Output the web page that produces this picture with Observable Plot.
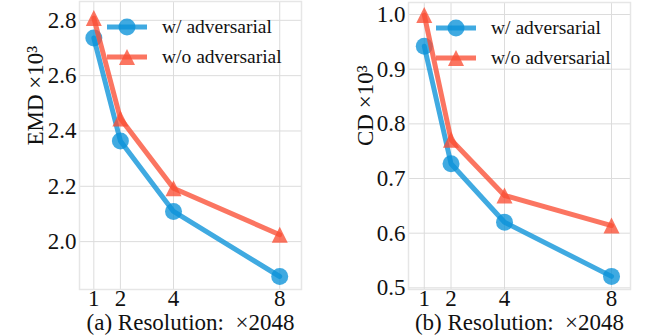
<!DOCTYPE html>
<html>
<head>
<meta charset="utf-8">
<script src="https://cdn.jsdelivr.net/npm/d3@7"></script>
<script src="https://cdn.jsdelivr.net/npm/@observablehq/plot@0.6"></script>
<style>
  html, body { margin: 0; padding: 0; background: #fff; }
  #wrap { display: flex; width: 664px; height: 335px; }
  #wrap > svg { display: block; }
  #wrap text { font-family: "Liberation Serif", "Times New Roman", serif !important; }
</style>
</head>
<body>
<div id="wrap"></div>
<script>
// ---- data ----
const resolutions = [1, 2, 4, 8];
const emdWith = [2.736, 2.364, 2.109, 1.874];
const emdWithout = [2.808, 2.445, 2.193, 2.025];
const cdWith = [0.942, 0.727, 0.620, 0.521];
const cdWithout = [0.999, 0.771, 0.669, 0.614];
const emdTicks = [2.0, 2.2, 2.4, 2.6, 2.8];
const cdTicks = [0.5, 0.6, 0.7, 0.8, 0.9, 1.0];
const seriesNames = ["w/ adversarial", "w/o adversarial"];

const BLUE = "#0a92d8";
const RED = "#fa4e34";
const FONT = "'Liberation Serif', 'Times New Roman', serif";

// matplotlib-like "^" marker centred on its bounding box
const mplTriangle = {
  draw(ctx, size) {
    const r = Math.sqrt(size / Math.PI);
    ctx.moveTo(0, -r);
    ctx.lineTo(r, r);
    ctx.lineTo(-r, r);
    ctx.closePath();
  }
};

function panel({withVals, withoutVals, yTicks, yDomain, xDomain, yLabel, xLabel, marginLeft, marginRight, marginTop, yLabelDx}) {
  const rowsWith = resolutions.map((x, i) => ({x, y: withVals[i]}));
  const rowsWithout = resolutions.map((x, i) => ({x, y: withoutVals[i]}));
  const svg = Plot.plot({
    width: 332,
    height: 335,
    marginLeft, marginRight, marginTop,
    marginBottom: 46,
    style: {fontFamily: FONT, background: "#fff", color: "#111"},
    x: {domain: xDomain},
    y: {domain: yDomain},
    marks: [
      Plot.gridX(resolutions, {stroke: "#dcdcdc", strokeOpacity: 1, strokeWidth: 1}),
      Plot.gridY(yTicks, {stroke: "#dcdcdc", strokeOpacity: 1, strokeWidth: 1}),
      Plot.frame({stroke: "#e6e6e6", strokeWidth: 1.5}),
      Plot.axisX(resolutions, {tickSize: 0, tickPadding: 0, fontSize: 23, label: null, fill: "#111"}),
      Plot.axisY(yTicks, {tickSize: 0, tickPadding: 3, fontSize: 23, label: null, tickFormat: d3.format(".1f"), fill: "#111"}),
      Plot.line(rowsWith, {x: "x", y: "y", stroke: BLUE, strokeWidth: 5, strokeOpacity: 0.78}),
      Plot.dot(rowsWith, {x: "x", y: "y", r: 8.5, fill: BLUE, fillOpacity: 0.78, stroke: "none"}),
      Plot.line(rowsWithout, {x: "x", y: "y", stroke: RED, strokeWidth: 5, strokeOpacity: 0.78}),
      Plot.dot(rowsWithout, {x: "x", y: "y", r: 8, symbol: mplTriangle, fill: RED, fillOpacity: 0.78, stroke: "none"}),
      Plot.text([yLabel], {frameAnchor: "left", dx: yLabelDx, rotate: -90, fontSize: 23, fill: "#111", text: d => d}),
      Plot.text([xLabel], {frameAnchor: "bottom", dy: 40, fontSize: 23, fill: "#111", text: d => d})
    ]
  });
  // legend (matplotlib style, inside the axes, upper right)
  const lg = d3.select(svg).append("g")
    .attr("font-size", 19.5).attr("text-anchor", "start");
  const x0 = marginLeft + 28, y0 = marginTop + 26;
  const items = [
    {name: seriesNames[0], color: BLUE, sym: d3.symbol(d3.symbolCircle, Math.PI * 8.5 * 8.5)},
    {name: seriesNames[1], color: RED, sym: d3.symbol(mplTriangle, Math.PI * 8 * 8)}
  ];
  items.forEach((it, i) => {
    const y = y0 + i * 30;
    lg.append("path").attr("d", `M${x0},${y}H${x0 + 40}`)
      .attr("fill", "none").attr("stroke", it.color).attr("stroke-width", 5).attr("stroke-opacity", 0.78);
    lg.append("path").attr("d", it.sym()).attr("transform", `translate(${x0 + 20},${y})`)
      .attr("fill", it.color).attr("fill-opacity", 0.78).attr("stroke", "none");
    lg.append("text").attr("x", x0 + 55).attr("y", y).attr("dy", "0.33em")
      .attr("fill", "#111").attr("text-anchor", "start").text(it.name);
  });
  return svg;
}

const wrap = document.getElementById("wrap");
wrap.append(panel({
  withVals: emdWith, withoutVals: emdWithout, yTicks: emdTicks,
  yDomain: [1.827, 2.868], xDomain: [0.46, 8.82],
  yLabel: "EMD ×10³", xLabel: "(a) Resolution:\u2002×2048",
  marginLeft: 79, marginRight: 31, marginTop: 1, yLabelDx: -44
}));
wrap.append(panel({
  withVals: cdWith, withoutVals: cdWithout, yTicks: cdTicks,
  yDomain: [0.497, 1.022], xDomain: [0.41, 8.71],
  yLabel: "CD ×10³", xLabel: "(b) Resolution:\u2002×2048",
  marginLeft: 76, marginRight: 34, marginTop: 2, yLabelDx: -43
}));
</script>
</body>
</html>
